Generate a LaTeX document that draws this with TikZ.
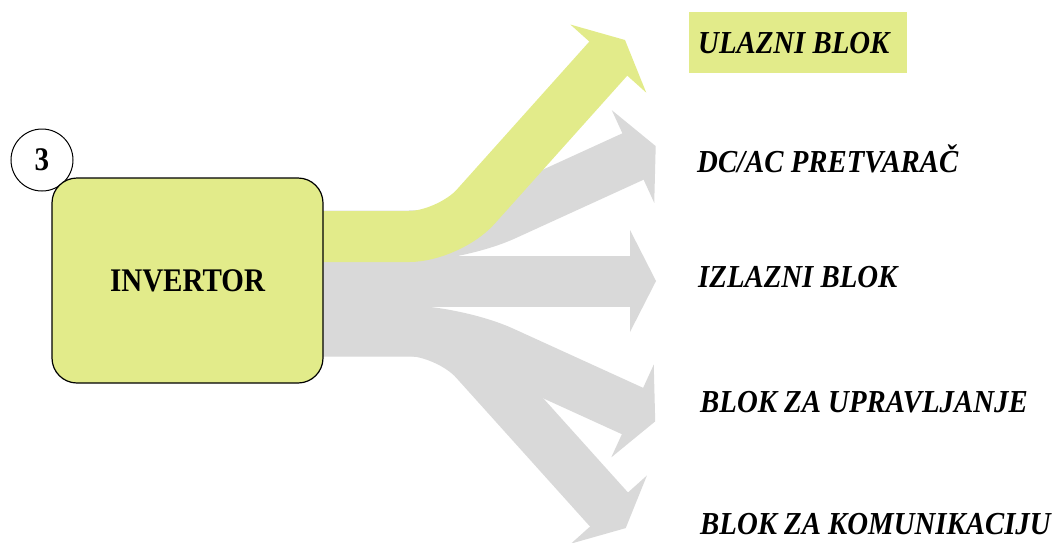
\documentclass[tikz,border=0pt]{standalone}
\usepackage{fontspec}
\setmainfont{Liberation Serif}
\newfontfamily\lblfont{Liberation Serif}[FakeStretch=0.9]
\newfontfamily\boxfont{Liberation Serif}[FakeStretch=0.88]
\usetikzlibrary{calc}
\definecolor{yl}{HTML}{E2EB8A}
\definecolor{gr}{HTML}{D9D9D9}
\begin{document}
\begin{tikzpicture}[x=1pt,y=-1pt,
  shaft/.style={line width=51pt, line cap=butt},
  lbl/.style={anchor=base west, inner sep=0pt, font=\lblfont\fontsize{32}{36}\selectfont\bfseries\itshape}]
\useasboundingbox (0,0) rectangle (1059,542);
% arrow geometry
\coordinate (s1) at (310,236.5); \coordinate (c1) at (449,236.5); \coordinate (b1) at (608.3,58.6); \coordinate (t1) at (625,40);
\coordinate (s2) at (310,236);   \coordinate (c2) at (459,236);   \coordinate (b2) at (633,156.5);  \coordinate (t2) at (655.7,146.1);
\coordinate (s3) at (310,281);   \coordinate (b3) at (630,281);   \coordinate (t3) at (656,281);
\coordinate (s4) at (310,331);   \coordinate (c4) at (457,331);   \coordinate (b4) at (632.5,411);  \coordinate (t4) at (655.2,421.4);
\coordinate (s5) at (310,330.5); \coordinate (c5) at (448,330.5); \coordinate (b5) at (609,509.5);  \coordinate (t5) at (625.7,528.1);
% gray arrows
\draw[shaft, gr, rounded corners=40pt] (s5) -- (c5) -- ($(b5)!1.5pt!(t5)$);
\fill[gr] ($(b5)!51pt!90:(t5)$) -- (t5) -- ($(b5)!51pt!-90:(t5)$) -- cycle;
\draw[shaft, gr, rounded corners=50pt] (s4) -- (c4) -- ($(b4)!1.5pt!(t4)$);
\fill[gr] ($(b4)!51pt!90:(t4)$) -- (t4) -- ($(b4)!51pt!-90:(t4)$) -- cycle;
\draw[shaft, gr] (s3) -- ($(b3)!1.5pt!(t3)$);
\fill[gr] ($(b3)!51pt!90:(t3)$) -- (t3) -- ($(b3)!51pt!-90:(t3)$) -- cycle;
\draw[shaft, gr, rounded corners=50pt] (s2) -- (c2) -- ($(b2)!1.5pt!(t2)$);
\fill[gr] ($(b2)!51pt!90:(t2)$) -- (t2) -- ($(b2)!51pt!-90:(t2)$) -- cycle;
% yellow arrow
\draw[shaft, yl, rounded corners=40pt] (s1) -- (c1) -- ($(b1)!1.5pt!(t1)$);
\fill[yl] ($(b1)!51pt!90:(t1)$) -- (t1) -- ($(b1)!51pt!-90:(t1)$) -- cycle;
% number circle and box
\node[circle, draw=black, line width=1pt, fill=white, minimum size=62pt, inner sep=0pt,
      font=\boxfont\fontsize{33}{36}\selectfont\bfseries] (num) at (42,160) {3};
\node[draw=black, line width=1.2pt, fill=yl, rounded corners=25pt, minimum width=271pt,
      minimum height=205pt, inner sep=0pt, font=\boxfont\fontsize{33}{38}\selectfont\bfseries] (inv) at (187.5,280.5) {INVERTOR};
% labels
\fill[yl] (689,12) rectangle (907,73);
\node[lbl] (l1) at (698,53) {ULAZNI BLOK};
\node[lbl] (l2) at (697,172) {DC/AC PRETVARAČ};
\node[lbl] (l3) at (698,287) {IZLAZNI BLOK};
\node[lbl] (l4) at (700,412) {BLOK ZA UPRAVLJANJE};
\node[lbl] (l5) at (700,534) {BLOK ZA KOMUNIKACIJU};
\end{tikzpicture}
\end{document}
